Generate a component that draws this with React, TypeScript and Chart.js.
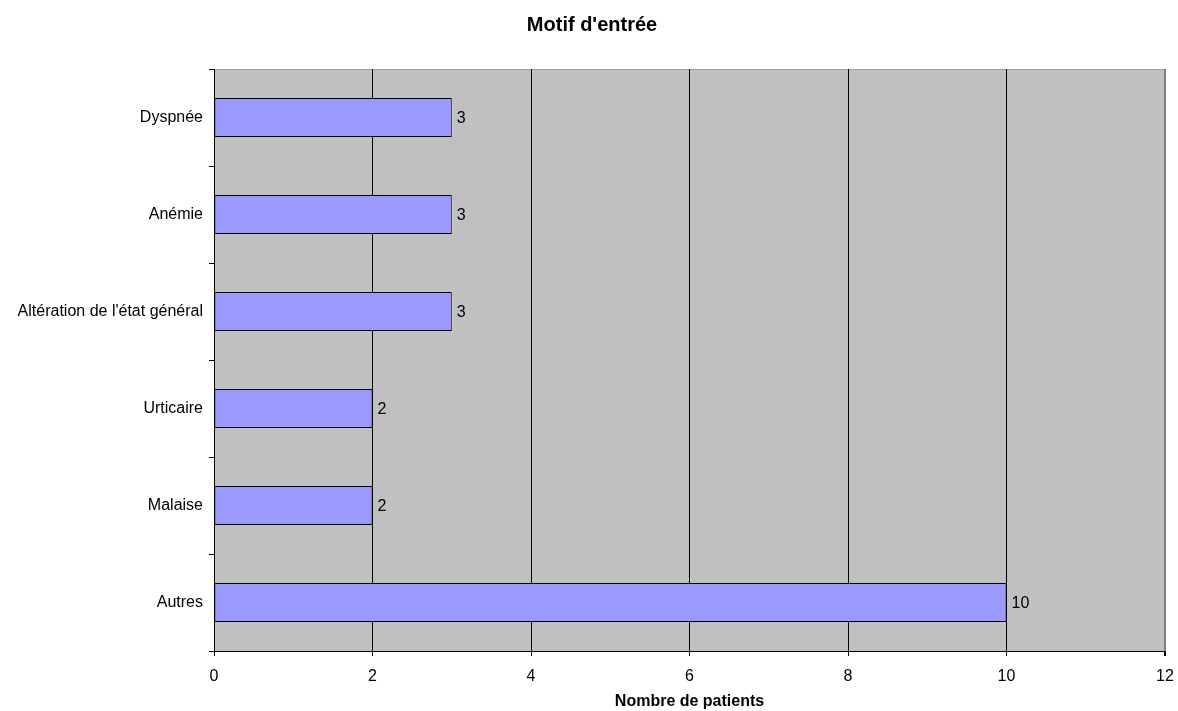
import React, { useEffect, useRef } from "react";
import { Chart, registerables } from "chart.js";

Chart.register(...registerables);

const categories = ["Dyspnée", "Anémie", "Altération de l'état général", "Urticaire", "Malaise", "Autres"];
const values = [3, 3, 3, 2, 2, 10];
const xTicks = [0, 2, 4, 6, 8, 10, 12];
const chartTitle = "Motif d'entrée";
const xAxisTitle = "Nombre de patients";

const FONT = "'Liberation Sans', Arial, sans-serif";

const bgPlugin = {
  id: "plotBg",
  beforeDraw(chart: any) {
    const { ctx, chartArea } = chart;
    ctx.save();
    ctx.fillStyle = "#C0C0C0";
    ctx.fillRect(chartArea.left, chartArea.top, chartArea.right - chartArea.left, chartArea.bottom - chartArea.top);
    ctx.strokeStyle = "#A0A0A0";
    ctx.lineWidth = 1;
    ctx.beginPath();
    ctx.moveTo(chartArea.left, chartArea.top + 0.5);
    ctx.lineTo(chartArea.right, chartArea.top + 0.5);
    ctx.stroke();
    ctx.restore();
  },
};

const titlePlugin = {
  id: "pageTitle",
  afterDraw(chart: any) {
    const { ctx } = chart;
    ctx.save();
    ctx.font = `bold 20px ${FONT}`;
    ctx.fillStyle = "#000";
    ctx.textAlign = "center";
    ctx.textBaseline = "middle";
    ctx.fillText(chartTitle, chart.width / 2 + 3, 25);
    ctx.restore();
  },
};

const labelPlugin = {
  id: "barLabels",
  afterDatasetsDraw(chart: any) {
    const { ctx } = chart;
    const meta = chart.getDatasetMeta(0);
    ctx.save();
    ctx.font = `16px ${FONT}`;
    ctx.fillStyle = "#000";
    ctx.textAlign = "left";
    ctx.textBaseline = "middle";
    meta.data.forEach((bar: any, i: number) => {
      ctx.fillText(String(values[i]), bar.x + 5, bar.y + 1);
    });
    ctx.restore();
  },
};

export default function App() {
  const ref = useRef<HTMLCanvasElement>(null);
  useEffect(() => {
    if (!ref.current) return;
    const chart = new Chart(ref.current, {
      type: "bar",
      data: {
        labels: categories,
        datasets: [
          {
            data: values,
            backgroundColor: "#9999FF",
            borderColor: "#000000",
            borderWidth: 1,
            borderSkipped: false,
            barPercentage: 0.4,
            categoryPercentage: 1.0,
          },
        ],
      },
      options: {
        indexAxis: "y",
        animation: false,
        responsive: false,
        maintainAspectRatio: false,
        layout: { padding: { left: 0, right: 13, top: 69, bottom: 0 } },
        plugins: {
          legend: { display: false },
          tooltip: { enabled: false },
          title: { display: false },
        },
        scales: {
          x: {
            min: 0,
            max: 12,
            afterBuildTicks: (scale: any) => {
              scale.ticks = xTicks.map((v) => ({ value: v }));
            },
            afterFit: (scale: any) => {
              scale.height = 60;
              scale.paddingRight = 0;
              scale.paddingLeft = 0;
            },
            grid: {
              color: (c: any) => (c.tick && c.tick.value === 12 ? "#808080" : "#000"),
              lineWidth: (c: any) => (c.tick && c.tick.value === 12 ? 2 : 1),
              drawTicks: true,
              tickLength: 5,
              tickColor: "#000",
            },
            border: { display: true, color: "#000", width: 1 },
            ticks: {
              color: "#000",
              font: { family: FONT, size: 16 },
              padding: 11,
              maxRotation: 0,
            },
            title: {
              display: true,
              text: xAxisTitle,
              color: "#000",
              font: { family: FONT, size: 16, weight: "bold" },
              padding: { top: 4, bottom: 0 },
            },
          },
          y: {
            type: "category",
            offset: true,
            afterFit: (scale: any) => {
              scale.width = 214;
              scale.paddingTop = 0;
              scale.paddingBottom = 0;
            },
            grid: {
              offset: true,
              drawOnChartArea: false,
              drawTicks: true,
              tickLength: 5,
              tickColor: "#000",
              color: "#000",
            },
            border: { display: true, color: "#000", width: 1 },
            ticks: {
              color: "#000",
              font: { family: FONT, size: 16 },
              padding: 6,
            },
          },
        },
      },
      plugins: [bgPlugin, labelPlugin, titlePlugin],
    } as any);
    return () => chart.destroy();
  }, []);
  return (
    <div style={{ position: "absolute", left: 0, top: 0, width: 1178, height: 711, background: "#fff" }}>
      <canvas ref={ref} width={1178} height={711} style={{ width: 1178, height: 711, display: "block" }} />
    </div>
  );
}
